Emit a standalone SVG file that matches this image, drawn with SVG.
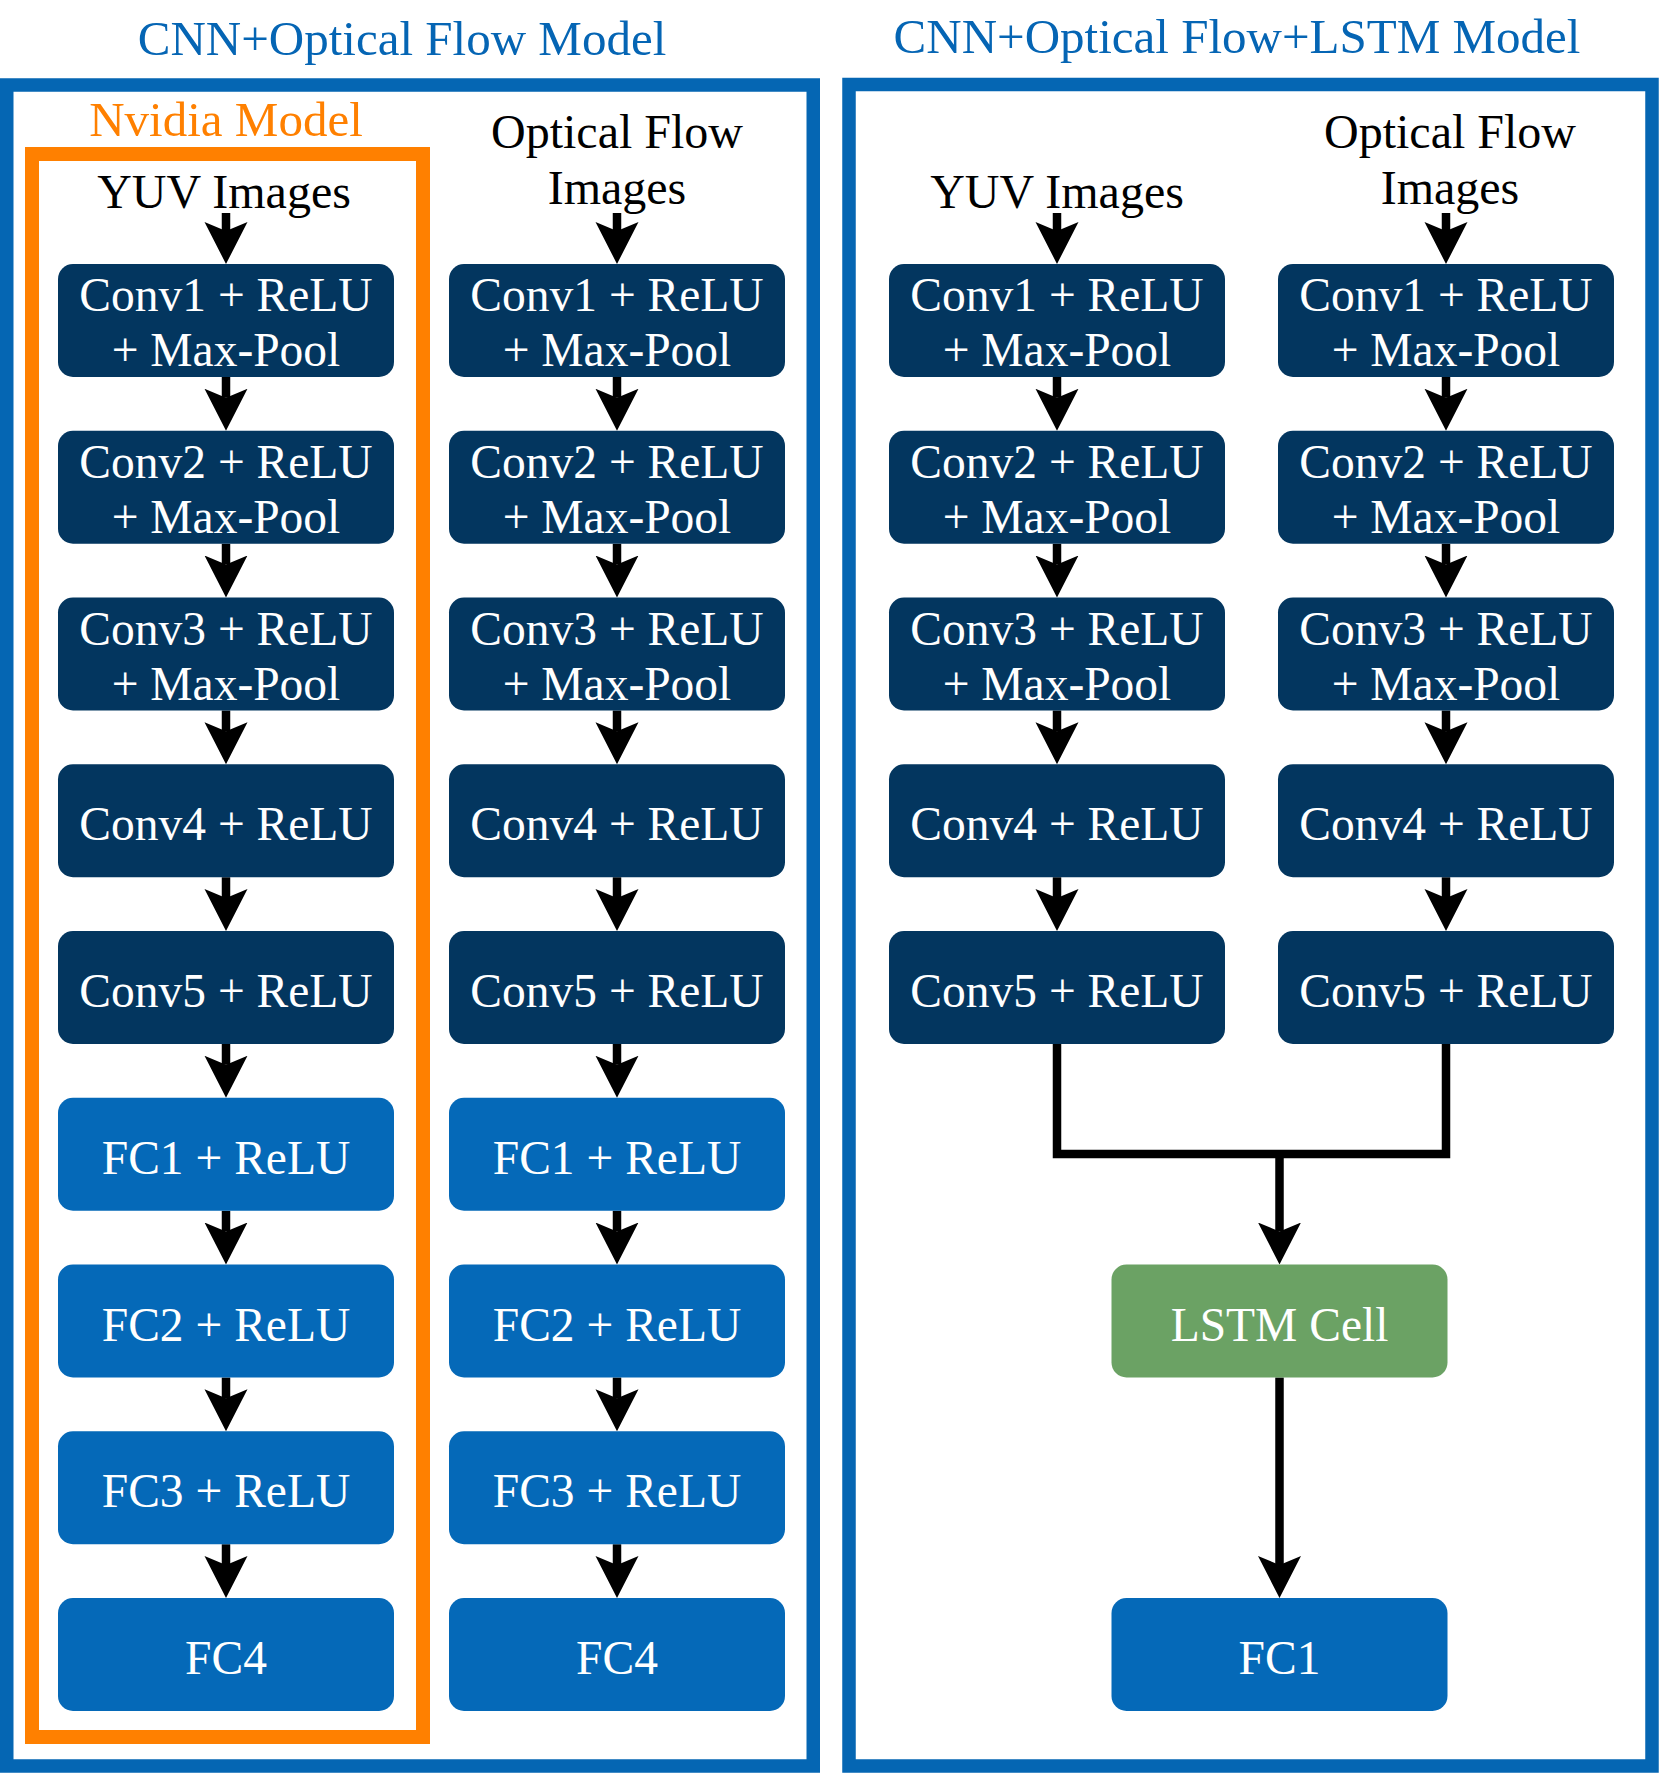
<svg xmlns="http://www.w3.org/2000/svg" width="1659" height="1775" viewBox="0 0 1659 1775">
<defs>
<style>
text{font-family:"Liberation Serif","Times New Roman",serif;text-anchor:middle}
.title{font-size:49px;fill:#0565B4}
.lbl{font-size:48px;fill:#000}
.orange{font-size:49px;fill:#FF8000}
.bt{font-size:47.5px;fill:#fff}
.conv{fill:#03365F}
.fc{fill:#0569B8}
.lstm{fill:#6BA264}
.panel{fill:none;stroke:#0566B3;stroke-width:13.5}
.nv{fill:none;stroke:#FF8000;stroke-width:14}
.ln{fill:none;stroke:#000;stroke-width:8.5}
.ar{fill:none;stroke:#000;stroke-width:8.5;marker-end:url(#ah)}
</style>
<marker id="ah" markerUnits="userSpaceOnUse" viewBox="0 -22 44 44" markerWidth="44" markerHeight="44" refX="9" refY="0" orient="auto">
<path d="M42,0 L0,-21.5 L9,0 L0,21.5 Z" fill="#000"/>
</marker>
</defs>
<rect width="1659" height="1775" fill="#fff"/>
<g id="titles">
<text class="title" x="402" y="55">CNN+Optical Flow Model</text>
<text class="title" x="1237" y="53">CNN+Optical Flow+LSTM Model</text>
</g>
<g id="panels">
<rect class="panel" x="6.75" y="85" width="806.5" height="1681"/>
<rect class="panel" x="849" y="84.5" width="803" height="1681.5"/>
<rect class="nv" x="32" y="154" width="391" height="1583"/>
<text class="orange" x="226" y="136">Nvidia Model</text>
</g>
<g id="inputs">
<text class="lbl" x="224" y="208">YUV Images</text>
<text class="lbl" x="617" y="148">Optical Flow</text>
<text class="lbl" x="617" y="204">Images</text>
<text class="lbl" x="1057" y="208">YUV Images</text>
<text class="lbl" x="1450" y="148">Optical Flow</text>
<text class="lbl" x="1450" y="204">Images</text>
</g>
<g id="connectors">
<path class="ar" d="M226,213 V231"/>
<path class="ar" d="M226,377 V397.75"/>
<path class="ar" d="M226,543.75 V564.5"/>
<path class="ar" d="M226,710.5 V731.25"/>
<path class="ar" d="M226,877.25 V898"/>
<path class="ar" d="M226,1044 V1064.75"/>
<path class="ar" d="M226,1210.75 V1231.5"/>
<path class="ar" d="M226,1377.5 V1398.25"/>
<path class="ar" d="M226,1544.25 V1565"/>
<path class="ar" d="M617,213 V231"/>
<path class="ar" d="M617,377 V397.75"/>
<path class="ar" d="M617,543.75 V564.5"/>
<path class="ar" d="M617,710.5 V731.25"/>
<path class="ar" d="M617,877.25 V898"/>
<path class="ar" d="M617,1044 V1064.75"/>
<path class="ar" d="M617,1210.75 V1231.5"/>
<path class="ar" d="M617,1377.5 V1398.25"/>
<path class="ar" d="M617,1544.25 V1565"/>
<path class="ar" d="M1057,213 V231"/>
<path class="ar" d="M1057,377 V397.75"/>
<path class="ar" d="M1057,543.75 V564.5"/>
<path class="ar" d="M1057,710.5 V731.25"/>
<path class="ar" d="M1057,877.25 V898"/>
<path class="ar" d="M1446,213 V231"/>
<path class="ar" d="M1446,377 V397.75"/>
<path class="ar" d="M1446,543.75 V564.5"/>
<path class="ar" d="M1446,710.5 V731.25"/>
<path class="ar" d="M1446,877.25 V898"/>
<path class="ln" d="M1057,1044 V1154 H1446 V1044" stroke-linejoin="miter"/>
<path class="ar" d="M1279.5,1154 V1231.5"/>
<path class="ar" d="M1279.5,1377.5 V1565"/>
</g>
<g id="col-yuv">
<g id="L-conv1"><rect class="conv" x="58" y="264" width="336" height="113" rx="15"/><text class="bt" x="226" y="311">Conv1 + ReLU</text><text class="bt" x="226" y="366">+ Max-Pool</text></g>
<g id="L-conv2"><rect class="conv" x="58" y="430.75" width="336" height="113" rx="15"/><text class="bt" x="226" y="477.75">Conv2 + ReLU</text><text class="bt" x="226" y="532.75">+ Max-Pool</text></g>
<g id="L-conv3"><rect class="conv" x="58" y="597.5" width="336" height="113" rx="15"/><text class="bt" x="226" y="644.5">Conv3 + ReLU</text><text class="bt" x="226" y="699.5">+ Max-Pool</text></g>
<g id="L-conv4"><rect class="conv" x="58" y="764.25" width="336" height="113" rx="15"/><text class="bt" x="226" y="840.25">Conv4 + ReLU</text></g>
<g id="L-conv5"><rect class="conv" x="58" y="931" width="336" height="113" rx="15"/><text class="bt" x="226" y="1007">Conv5 + ReLU</text></g>
<g id="L-fc1"><rect class="fc" x="58" y="1097.75" width="336" height="113" rx="15"/><text class="bt" x="226" y="1173.75">FC1 + ReLU</text></g>
<g id="L-fc2"><rect class="fc" x="58" y="1264.5" width="336" height="113" rx="15"/><text class="bt" x="226" y="1340.5">FC2 + ReLU</text></g>
<g id="L-fc3"><rect class="fc" x="58" y="1431.25" width="336" height="113" rx="15"/><text class="bt" x="226" y="1507.25">FC3 + ReLU</text></g>
<g id="L-fc4"><rect class="fc" x="58" y="1598" width="336" height="113" rx="15"/><text class="bt" x="226" y="1674">FC4</text></g>
</g>
<g id="col-of">
<g id="O-conv1"><rect class="conv" x="449" y="264" width="336" height="113" rx="15"/><text class="bt" x="617" y="311">Conv1 + ReLU</text><text class="bt" x="617" y="366">+ Max-Pool</text></g>
<g id="O-conv2"><rect class="conv" x="449" y="430.75" width="336" height="113" rx="15"/><text class="bt" x="617" y="477.75">Conv2 + ReLU</text><text class="bt" x="617" y="532.75">+ Max-Pool</text></g>
<g id="O-conv3"><rect class="conv" x="449" y="597.5" width="336" height="113" rx="15"/><text class="bt" x="617" y="644.5">Conv3 + ReLU</text><text class="bt" x="617" y="699.5">+ Max-Pool</text></g>
<g id="O-conv4"><rect class="conv" x="449" y="764.25" width="336" height="113" rx="15"/><text class="bt" x="617" y="840.25">Conv4 + ReLU</text></g>
<g id="O-conv5"><rect class="conv" x="449" y="931" width="336" height="113" rx="15"/><text class="bt" x="617" y="1007">Conv5 + ReLU</text></g>
<g id="O-fc1"><rect class="fc" x="449" y="1097.75" width="336" height="113" rx="15"/><text class="bt" x="617" y="1173.75">FC1 + ReLU</text></g>
<g id="O-fc2"><rect class="fc" x="449" y="1264.5" width="336" height="113" rx="15"/><text class="bt" x="617" y="1340.5">FC2 + ReLU</text></g>
<g id="O-fc3"><rect class="fc" x="449" y="1431.25" width="336" height="113" rx="15"/><text class="bt" x="617" y="1507.25">FC3 + ReLU</text></g>
<g id="O-fc4"><rect class="fc" x="449" y="1598" width="336" height="113" rx="15"/><text class="bt" x="617" y="1674">FC4</text></g>
</g>
<g id="col-ryuv">
<g id="RY-conv1"><rect class="conv" x="889" y="264" width="336" height="113" rx="15"/><text class="bt" x="1057" y="311">Conv1 + ReLU</text><text class="bt" x="1057" y="366">+ Max-Pool</text></g>
<g id="RY-conv2"><rect class="conv" x="889" y="430.75" width="336" height="113" rx="15"/><text class="bt" x="1057" y="477.75">Conv2 + ReLU</text><text class="bt" x="1057" y="532.75">+ Max-Pool</text></g>
<g id="RY-conv3"><rect class="conv" x="889" y="597.5" width="336" height="113" rx="15"/><text class="bt" x="1057" y="644.5">Conv3 + ReLU</text><text class="bt" x="1057" y="699.5">+ Max-Pool</text></g>
<g id="RY-conv4"><rect class="conv" x="889" y="764.25" width="336" height="113" rx="15"/><text class="bt" x="1057" y="840.25">Conv4 + ReLU</text></g>
<g id="RY-conv5"><rect class="conv" x="889" y="931" width="336" height="113" rx="15"/><text class="bt" x="1057" y="1007">Conv5 + ReLU</text></g>
</g>
<g id="col-rof">
<g id="RO-conv1"><rect class="conv" x="1278" y="264" width="336" height="113" rx="15"/><text class="bt" x="1446" y="311">Conv1 + ReLU</text><text class="bt" x="1446" y="366">+ Max-Pool</text></g>
<g id="RO-conv2"><rect class="conv" x="1278" y="430.75" width="336" height="113" rx="15"/><text class="bt" x="1446" y="477.75">Conv2 + ReLU</text><text class="bt" x="1446" y="532.75">+ Max-Pool</text></g>
<g id="RO-conv3"><rect class="conv" x="1278" y="597.5" width="336" height="113" rx="15"/><text class="bt" x="1446" y="644.5">Conv3 + ReLU</text><text class="bt" x="1446" y="699.5">+ Max-Pool</text></g>
<g id="RO-conv4"><rect class="conv" x="1278" y="764.25" width="336" height="113" rx="15"/><text class="bt" x="1446" y="840.25">Conv4 + ReLU</text></g>
<g id="RO-conv5"><rect class="conv" x="1278" y="931" width="336" height="113" rx="15"/><text class="bt" x="1446" y="1007">Conv5 + ReLU</text></g>
</g>
<g id="lstm"><rect class="lstm" x="1111.5" y="1264.5" width="336" height="113" rx="15"/><text class="bt" x="1279.5" y="1340.5">LSTM Cell</text></g>
<g id="R-fc1"><rect class="fc" x="1111.5" y="1598" width="336" height="113" rx="15"/><text class="bt" x="1279.5" y="1674">FC1</text></g>
</svg>
